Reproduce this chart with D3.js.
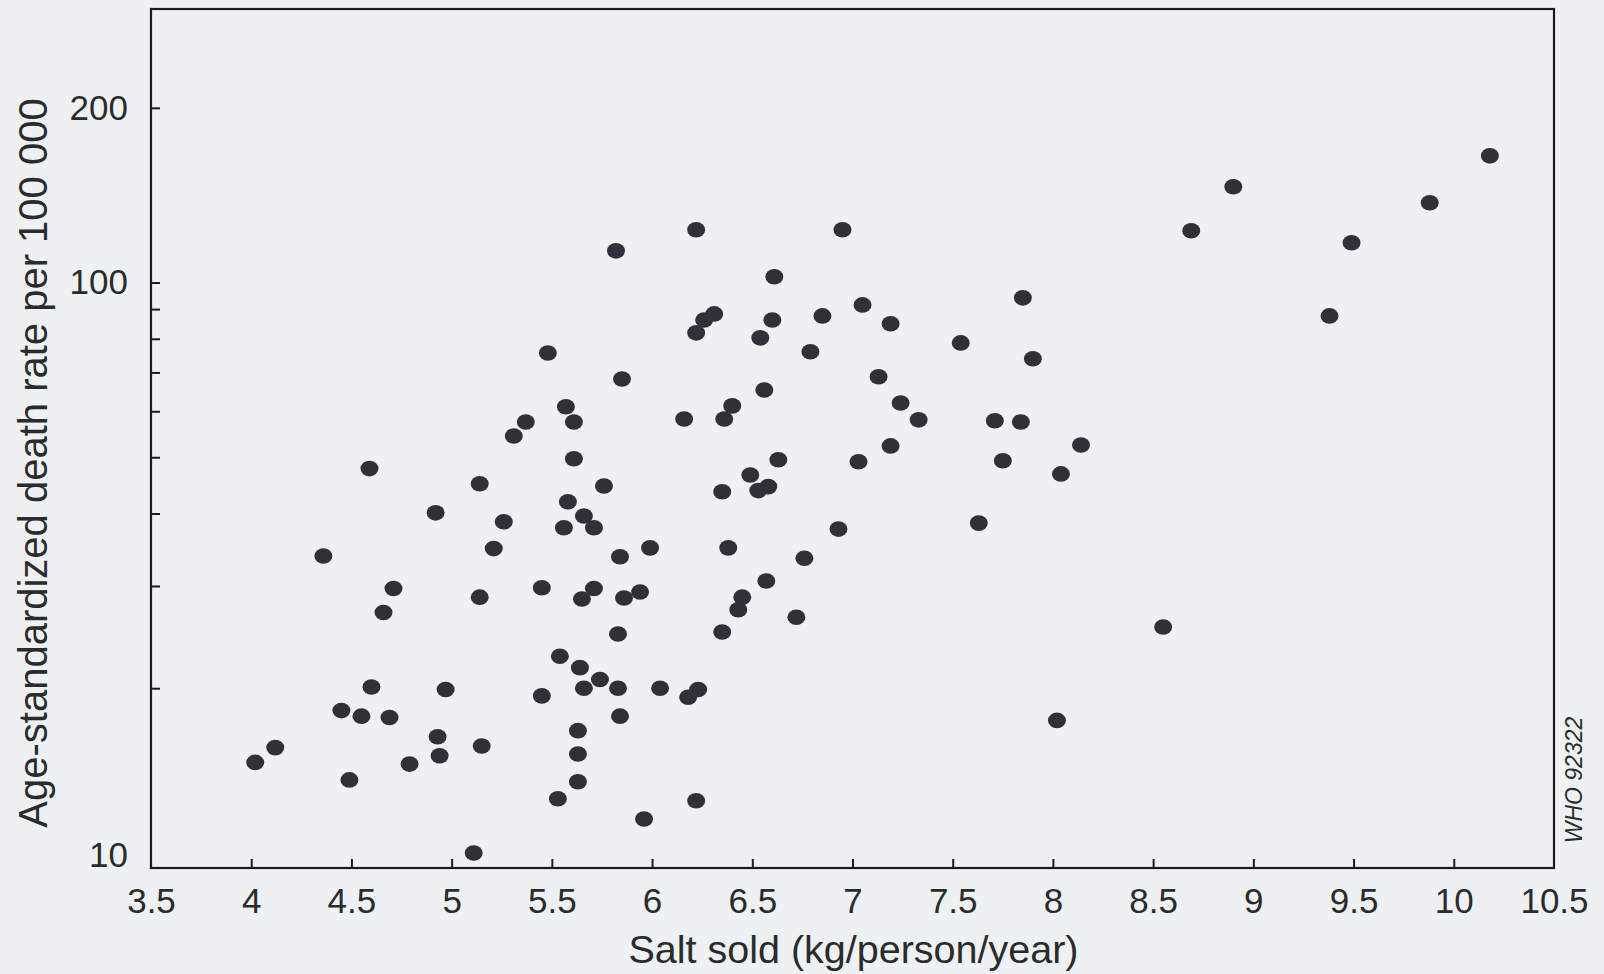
<!DOCTYPE html>
<html>
<head>
<meta charset="utf-8">
<script src="https://cdn.jsdelivr.net/npm/d3@7"></script>
<style>
  html, body { margin: 0; padding: 0; background: #eef1f3; }
  svg { display: block; }
  text { font-family: "Liberation Sans", Arial, Helvetica, sans-serif; fill: #2b2b2b; }
</style>
</head>
<body>
<svg id="chart" width="1604" height="974"></svg>
<script>
// salt sold (kg/person/year) and age-standardized death rate per 100 000
const saltSold = [
  4.02, 4.12, 4.36, 4.45, 4.49, 4.55, 4.60, 4.59, 4.66, 4.69,
  4.71, 4.79, 4.92, 4.93, 4.94, 4.97, 5.11, 5.14, 5.14, 5.15,
  5.21, 5.26, 5.31, 5.37, 5.45, 5.45, 5.48, 5.53, 5.54, 5.56,
  5.57, 5.58, 5.61, 5.61, 5.63, 5.63, 5.63, 5.64, 5.65, 5.66,
  5.66, 5.71, 5.71, 5.74, 5.76, 5.82, 5.84, 5.83, 5.83, 5.84,
  5.85, 5.86, 5.94, 5.96, 5.99, 6.04, 6.16, 6.18, 6.22, 6.22,
  6.23, 6.22, 6.26, 6.31, 6.35, 6.35, 6.36, 6.38, 6.40, 6.43,
  6.45, 6.49, 6.53, 6.54, 6.56, 6.57, 6.58, 6.60, 6.61, 6.63,
  6.72, 6.76, 6.79, 6.85, 6.93, 6.95, 7.03, 7.05, 7.13, 7.19,
  7.19, 7.24, 7.33, 7.54, 7.63, 7.71, 7.75, 7.84, 7.85, 7.90,
  8.02, 8.04, 8.14, 8.55, 8.69, 8.90, 9.38, 9.49, 9.88, 10.18
];
const deathRate = [
  14.9, 15.8, 33.8, 18.3, 13.9, 17.9, 20.1, 47.8, 27.0, 17.8,
  29.7, 14.8, 40.1, 16.5, 15.3, 19.9, 10.4, 45.0, 28.7, 15.9,
  34.8, 38.7, 54.4, 57.5, 19.4, 29.8, 75.6, 12.9, 22.7, 37.8,
  61.1, 41.9, 49.7, 57.5, 16.9, 15.4, 13.8, 21.7, 28.5, 20.0,
  39.6, 37.8, 29.7, 20.7, 44.6, 113.4, 33.7, 24.8, 20.0, 17.9,
  68.2, 28.6, 29.3, 11.9, 34.9, 20.0, 58.2, 19.3, 81.9, 123.3,
  19.9, 12.8, 86.2, 88.3, 43.6, 25.0, 58.2, 34.9, 61.3, 27.3,
  28.7, 46.6, 43.8, 80.3, 65.3, 30.6, 44.5, 86.2, 102.3, 49.5,
  26.5, 33.5, 76.0, 87.6, 37.6, 123.3, 49.1, 91.5, 68.8, 52.3,
  84.9, 62.0, 58.0, 78.7, 38.5, 57.8, 49.3, 57.5, 94.1, 73.9,
  17.6, 46.8, 52.5, 25.5, 122.8, 146.2, 87.6, 117.1, 137.2, 165.3
];

const xTicks = [3.5, 4, 4.5, 5, 5.5, 6, 6.5, 7, 7.5, 8, 8.5, 9, 9.5, 10, 10.5];
const yTicks = [10, 20, 30, 40, 50, 60, 70, 80, 90, 100, 200];
const yLabelled = [10, 100, 200];

const xTitle = "Salt sold (kg/person/year)";
const yTitle = "Age-standardized death rate per 100 000";
const stamp = "WHO 92322";

const svg = d3.select("#chart");

const x = d3.scaleLinear().domain([3.5, 10.5]).range([151, 1554]);
const y = d3.scaleLog().domain([9.8, 296]).range([868, 9]);

const TICK_FONT = 35;

// frame
svg.append("rect")
  .attr("x", x(3.5))
  .attr("y", y(296))
  .attr("width", x(10.5) - x(3.5))
  .attr("height", y(9.8) - y(296))
  .attr("fill", "none")
  .attr("stroke", "#1c1c1c")
  .attr("stroke-width", 2.2);

// x axis, ticks pointing into the plot
const xAxis = svg.append("g")
  .attr("transform", `translate(0, ${y(9.8)})`)
  .call(d3.axisBottom(x)
    .tickValues(xTicks)
    .tickFormat(d3.format("~g"))
    .tickSize(-9)
    .tickPadding(20));
xAxis.select(".domain").remove();
xAxis.selectAll("line")
  .attr("stroke", "#1c1c1c")
  .attr("stroke-width", 2)
  .filter(d => d === 3.5 || d === 10.5).remove();
xAxis.selectAll("text")
  .attr("font-size", TICK_FONT)
  .style("fill", "#2b2b2b");
xAxis.attr("font-family", null).attr("font-size", null);

// y axis, log scale, minor ticks only labelled at 10, 100, 200
const yAxis = svg.append("g")
  .attr("transform", `translate(${x(3.5)}, 0)`)
  .call(d3.axisLeft(y)
    .tickValues(yTicks)
    .tickFormat(d => yLabelled.includes(d) ? d : "")
    .tickSize(-9)
    .tickPadding(23));
yAxis.select(".domain").remove();
yAxis.selectAll("line")
  .attr("stroke", "#1c1c1c")
  .attr("stroke-width", 2)
  .filter(d => d === 10).remove();
yAxis.selectAll("text")
  .attr("font-size", TICK_FONT)
  .style("fill", "#2b2b2b")
  .filter(d => d === 10).attr("dy", "0.1em");
yAxis.attr("font-family", null).attr("font-size", null);

// points
svg.append("g")
  .selectAll("ellipse")
  .data(saltSold.map((s, i) => ({ s, r: deathRate[i] })))
  .enter()
  .append("ellipse")
  .attr("cx", d => x(d.s))
  .attr("cy", d => y(d.r))
  .attr("rx", 9)
  .attr("ry", 7.8)
  .attr("fill", "#303138");

// titles
svg.append("text")
  .attr("x", (x(3.5) + x(10.5)) / 2 + 1)
  .attr("y", 963)
  .attr("text-anchor", "middle")
  .attr("font-size", 39.5)
  .text(xTitle);

svg.append("text")
  .attr("transform", `translate(47, 463) rotate(-90)`)
  .attr("text-anchor", "middle")
  .attr("font-size", 40)
  .text(yTitle);

svg.append("text")
  .attr("transform", `translate(1582, 780) rotate(-90)`)
  .attr("text-anchor", "middle")
  .attr("font-size", 23)
  .attr("font-style", "italic")
  .text(stamp);
</script>
</body>
</html>
